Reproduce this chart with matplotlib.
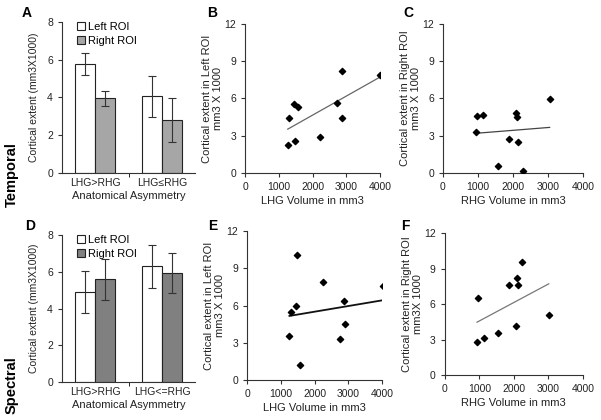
import numpy as np
import matplotlib
matplotlib.use("Agg")
import matplotlib.pyplot as plt
from matplotlib.patches import Patch

plt.rcParams["font.family"] = ["Liberation Sans", "DejaVu Sans"]

# ---------- data ----------
groups_top = ["LHG>RHG", "LHG\u2264RHG"]
groups_bot = ["LHG>RHG", "LHG<=RHG"]

temporal_left = [5.75, 4.05]
temporal_left_err = [0.58, 1.1]
temporal_right = [3.95, 2.8]
temporal_right_err = [0.38, 1.15]

spectral_left = [4.9, 6.3]
spectral_left_err = [1.15, 1.18]
spectral_right = [5.6, 5.95]
spectral_right_err = [1.1, 1.1]

lhg_vol_t = [1264, 1314, 1452, 1560, 1481, 2212, 2736, 2884, 2864, 4000]
left_ext_t = [2.29, 4.45, 5.56, 5.29, 2.56, 2.89, 5.66, 8.23, 4.42, 7.93]

rhg_vol_t = [962, 952, 1152, 1562, 1886, 2076, 2124, 2152, 2276, 3048]
right_ext_t = [4.63, 3.34, 4.68, 0.56, 2.77, 4.87, 4.49, 2.48, 0.19, 5.95]

lhg_vol_s = [1255, 1304, 1441, 1480, 1569, 2235, 2755, 2873, 2902, 4029]
left_ext_s = [3.53, 5.50, 5.96, 10.03, 1.19, 7.90, 3.32, 6.39, 4.50, 7.58]

rhg_vol_s = [933, 952, 1143, 1552, 1857, 2086, 2124, 2057, 2238, 3010]
right_ext_s = [2.82, 6.48, 3.13, 3.55, 7.58, 8.17, 7.63, 4.17, 9.52, 5.10]

FS = 7.5
fig = plt.figure(figsize=(6.01, 4.20), dpi=100)


def style(ax):
    for s in ("top", "right"):
        ax.spines[s].set_visible(False)
    for s in ("left", "bottom"):
        ax.spines[s].set_color("#333333")
        ax.spines[s].set_linewidth(0.8)
    ax.tick_params(direction="out", length=3, width=0.8, labelsize=FS,
                   colors="#333333", labelcolor="#222222")


def bar_panel(rect, labels, left, left_err, right, right_err, gray, ylabel):
    ax = fig.add_axes(rect)
    x = np.arange(len(labels))
    w = 0.3
    ax.bar(x - w / 2, left, w, color="white", edgecolor="#222222", linewidth=0.8,
           yerr=left_err, error_kw=dict(ecolor="#333333", elinewidth=0.8, capsize=3, capthick=0.8))
    ax.bar(x + w / 2, right, w, color=gray, edgecolor="#222222", linewidth=0.8,
           yerr=right_err, error_kw=dict(ecolor="#333333", elinewidth=0.8, capsize=3, capthick=0.8))
    ax.set_xlim(-0.5, len(labels) - 0.5)
    ax.set_ylim(0, 8)
    ax.set_yticks([0, 2, 4, 6, 8])
    ax.set_xticks(x)
    ax.set_xticklabels(labels)
    ax.set_xticks([0.5], minor=True)
    style(ax)
    ax.tick_params(axis="x", which="major", length=0)
    ax.tick_params(axis="x", which="minor", length=3, direction="out")
    ax.set_xlabel("Anatomical Asymmetry", fontsize=FS + 0.5, labelpad=2, color="#222222")
    ax.set_ylabel(ylabel, fontsize=FS, labelpad=6, color="#222222")
    handles = [Patch(facecolor="white", edgecolor="#222222", linewidth=0.8, label="Left ROI"),
               Patch(facecolor=gray, edgecolor="#222222", linewidth=0.8, label="Right ROI")]
    ax.legend(handles=handles, loc="upper left", bbox_to_anchor=(0.08, 1.03), frameon=False,
              fontsize=FS + 0.5, handlelength=0.7, handleheight=0.7, handletextpad=0.3,
              labelspacing=0.35, borderaxespad=0)
    return ax


def scatter_panel(rect, xs, ys, xlabel, ylabel, line_color, line_w):
    ax = fig.add_axes(rect)
    ax.scatter(xs, ys, marker="D", s=10, color="black", zorder=3)
    k, b = np.polyfit(xs, ys, 1)
    xx = np.array([min(xs), max(xs)])
    ax.plot(xx, k * xx + b, color=line_color, linewidth=line_w)
    ax.set_xlim(0, 4000)
    ax.set_ylim(0, 12)
    ax.set_xticks([0, 1000, 2000, 3000, 4000])
    ax.set_yticks([0, 3, 6, 9, 12])
    style(ax)
    ax.set_xlabel(xlabel, fontsize=FS + 0.5, labelpad=3, color="#222222")
    ax.set_ylabel(ylabel, fontsize=FS + 0.5, labelpad=1, color="#222222", linespacing=1.1)
    return ax


bar_panel([0.103, 0.588, 0.222, 0.36], groups_top, temporal_left, temporal_left_err,
          temporal_right, temporal_right_err, "#a6a6a6", "Cortical extent (mm3X1000)")
scatter_panel([0.408, 0.588, 0.224, 0.355], lhg_vol_t, left_ext_t, "LHG Volume in mm3",
              "Cortical extent in Left ROI\nmm3 X 1000", "#666666", 0.9)
scatter_panel([0.737, 0.588, 0.233, 0.355], rhg_vol_t, right_ext_t, "RHG Volume in mm3",
              "Cortical extent in Right ROI\nmm3 X 1000", "#444444", 0.9)

bar_panel([0.103, 0.090, 0.222, 0.35], groups_bot, spectral_left, spectral_left_err,
          spectral_right, spectral_right_err, "#808080", "Cortical extent (mm3X1000)")
scatter_panel([0.411, 0.095, 0.225, 0.355], lhg_vol_s, left_ext_s, "LHG Volume in mm3",
              "Cortical extent in Left ROI\nmm3 X 1000", "#111111", 1.3)
scatter_panel([0.740, 0.107, 0.230, 0.338], rhg_vol_s, right_ext_s, "RHG Volume in mm3",
              "Cortical extent in Right ROI\nmm3X 1000", "#777777", 0.9)

# panel letters and row labels
for letter, (px, py) in zip("ABCDEF", [(27, 13), (212, 13), (408, 13),
                                       (30, 226), (213, 226), (405, 226)]):
    fig.text(px / 601, 1 - py / 420, letter, fontsize=10, fontweight="bold",
             ha="center", va="center")
fig.text(12 / 601, 1 - 175 / 420, "Temporal", rotation=90, fontsize=10.5,
         fontweight="bold", ha="center", va="center")
fig.text(12 / 601, 1 - 385 / 420, "Spectral", rotation=90, fontsize=10.5,
         fontweight="bold", ha="center", va="center")

fig.savefig("out.png", dpi=100, facecolor="white")
